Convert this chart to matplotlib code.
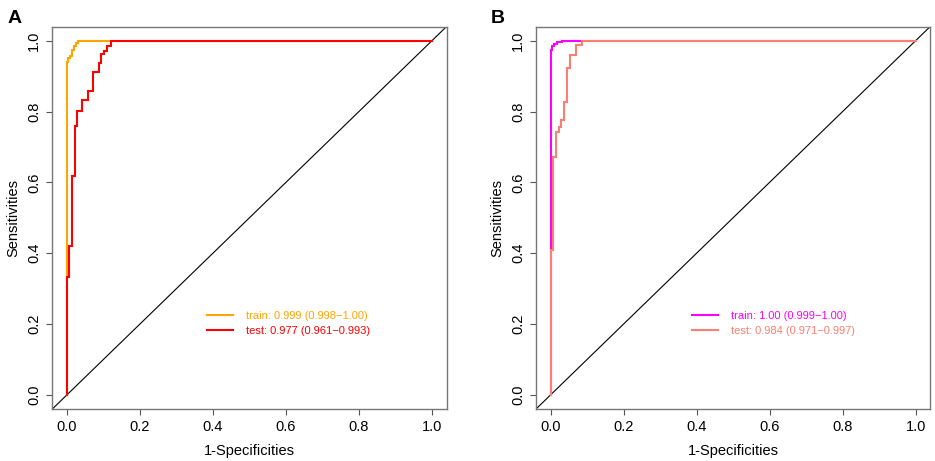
import matplotlib
matplotlib.use("Agg")
import matplotlib.pyplot as plt

plt.rcParams['font.family'] = ['Liberation Sans', 'DejaVu Sans']

# step vertices (1 - specificity, sensitivity)
a_train_fpr = [0, 0, 0.003, 0.003, 0.008, 0.008, 0.014, 0.014, 0.020, 0.020, 0.026, 0.026, 0.031, 0.031, 1.0]
a_train_tpr = [0, 0.939, 0.939, 0.951, 0.951, 0.958, 0.958, 0.975, 0.975, 0.985, 0.985, 0.993, 0.993, 1.0, 1.0]

a_test_fpr = [0, 0, 0.006, 0.006, 0.013, 0.013, 0.021, 0.021, 0.028, 0.028, 0.042, 0.042,
              0.057, 0.057, 0.072, 0.072, 0.087, 0.087, 0.093, 0.093, 0.101, 0.101, 0.109, 0.109,
              0.121, 0.121, 1.0]
a_test_tpr = [0, 0.334, 0.334, 0.419, 0.419, 0.619, 0.619, 0.760, 0.760, 0.801, 0.801, 0.833,
              0.833, 0.859, 0.859, 0.912, 0.912, 0.937, 0.937, 0.961, 0.961, 0.970, 0.970, 0.986,
              0.986, 1.0, 1.0]

b_train_fpr = [0, 0, 0.002, 0.002, 0.005, 0.005, 0.010, 0.010, 0.018, 0.018, 0.032, 0.032, 1.0]
b_train_tpr = [0, 0.968, 0.968, 0.975, 0.975, 0.985, 0.985, 0.990, 0.990, 0.995, 0.995, 1.0, 1.0]

b_test_fpr = [0, 0, 0.006, 0.006, 0.014, 0.014, 0.023, 0.023, 0.028, 0.028, 0.037, 0.037,
              0.045, 0.045, 0.054, 0.054, 0.070, 0.070, 0.086, 0.086, 1.0]
b_test_tpr = [0, 0.408, 0.408, 0.672, 0.672, 0.741, 0.741, 0.756, 0.756, 0.777, 0.777, 0.828,
              0.828, 0.924, 0.924, 0.960, 0.960, 0.987, 0.987, 1.0, 1.0]

a_labels = ["train: 0.999 (0.998\u22121.00)", "test: 0.977 (0.961\u22120.993)"]
b_labels = ["train: 1.00 (0.999\u22121.00)", "test: 0.984 (0.971\u22120.997)"]
a_colors = ["#FFA500", "#FF0000"]
b_colors = ["#FF00FF", "#FA8072"]

ticks = [0.0, 0.2, 0.4, 0.6, 0.8, 1.0]
tick_labels = ["0.0", "0.2", "0.4", "0.6", "0.8", "1.0"]

fig = plt.figure(figsize=(9.35, 4.61), dpi=100)
ax_a = fig.add_axes([0.056, 0.1128, 0.4216, 0.8297])
ax_b = fig.add_axes([0.5733, 0.1128, 0.4216, 0.8297])


def draw_panel(ax, curves, colors, labels, letter, leg_x):
    for (fpr, tpr), c in zip(curves, colors):
        ax.plot(fpr, tpr, color=c, linewidth=1.5, solid_joinstyle='miter')
    ax.set_xlim(-0.04, 1.04)
    ax.set_ylim(-0.04, 1.04)
    ax.plot([-0.04, 1.04], [-0.04, 1.04], color='black', linewidth=0.8, zorder=1)
    ax.set_xticks(ticks)
    ax.set_xticklabels(tick_labels)
    ax.set_yticks(ticks)
    ax.set_yticklabels(tick_labels, rotation=90, va='center')
    ax.tick_params(direction='out', length=4, width=0.8, color='#555555',
                   labelsize=10.5, pad=4)
    for s in ax.spines.values():
        s.set_color('#777777')
        s.set_linewidth(1.0)
    ax.set_xlabel("1-Specificities", fontsize=10.5, labelpad=7)
    ax.set_ylabel("Sensitivities", fontsize=10.5, labelpad=5)
    leg = ax.legend([plt.Line2D([], [], color=c, linewidth=1.5) for c in colors], labels,
                    loc='lower left', bbox_to_anchor=(leg_x, 0.19), frameon=False,
                    borderpad=0, borderaxespad=0,
                    fontsize=8, handlelength=2.35, handletextpad=1.2, labelspacing=0.45)
    for t, c in zip(leg.get_texts(), colors):
        t.set_color(c)
    ax.text(-0.115, 1.0, letter, transform=ax.transAxes, fontsize=14,
            fontweight='bold', va='bottom', ha='left')


draw_panel(ax_a, [(a_train_fpr, a_train_tpr), (a_test_fpr, a_test_tpr)], a_colors, a_labels, "A", 0.392)
draw_panel(ax_b, [(b_train_fpr, b_train_tpr), (b_test_fpr, b_test_tpr)], b_colors, b_labels, "B", 0.395)

fig.savefig("out.png", dpi=100)
